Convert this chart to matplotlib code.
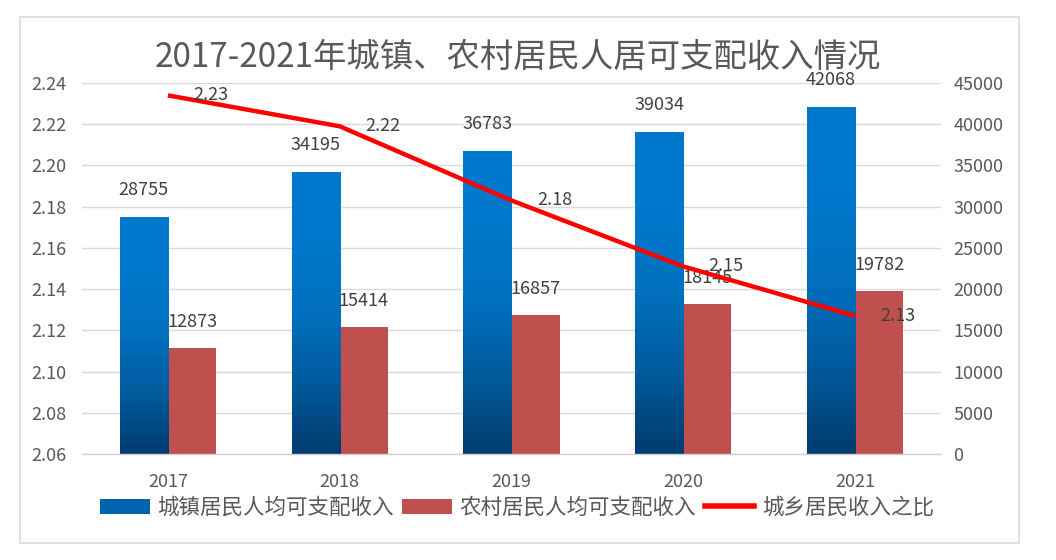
import numpy as np
import matplotlib
matplotlib.use("Agg")
import matplotlib.pyplot as plt
from matplotlib.colors import LinearSegmentedColormap
from matplotlib.patches import Patch, Rectangle
from matplotlib.lines import Line2D

plt.rcParams['font.family'] = ['Noto Sans CJK SC', 'DejaVu Sans']

years = ['2017', '2018', '2019', '2020', '2021']
urban_income = [28755, 34195, 36783, 39034, 42068]
rural_income = [12873, 15414, 16857, 18145, 19782]
ratio = [2.234, 2.219, 2.183, 2.151, 2.127]
ratio_labels = ['2.23', '2.22', '2.18', '2.15', '2.13']

title = '2017-2021年城镇、农村居民人居可支配收入情况'
legend_labels = ['城镇居民人均可支配收入', '农村居民人均可支配收入', '城乡居民收入之比']

tick_color = '#595959'
label_color = '#404040'
grid_color = '#D9D9D9'
red_bar = '#C0504D'

fig = plt.figure(figsize=(10.56, 5.6), dpi=100)
fig.patches.append(Rectangle((20/1056, 1-543/560), (1019-20)/1056, (543-17)/560,
                             transform=fig.transFigure, fill=False,
                             edgecolor='#D9D9D9', linewidth=1.2))

ax = fig.add_axes([82/1056, 1-454/560, (941-82)/1056, (454-83)/560])
x = np.arange(len(years))
w = 0.28

bars_u = ax.bar(x - w/2, urban_income, w, color='#0070C0', linewidth=0, zorder=2)
bars_r = ax.bar(x + w/2, rural_income, w, color=red_bar, linewidth=0, zorder=2)

cmap = LinearSegmentedColormap.from_list('blue_grad', ['#003B6E', '#005A9C', '#0070BE', '#0078CC', '#0079CE'])
grad = np.linspace(0, 1, 256).reshape(-1, 1)
for rect in bars_u:
    x0, y0 = rect.get_xy()
    im = ax.imshow(grad, extent=[x0, x0 + rect.get_width(), y0, y0 + rect.get_height()],
                   origin='lower', cmap=cmap, aspect='auto', zorder=2.1, interpolation='bilinear')
    im.set_clip_path(rect)
    rect.set_facecolor('none')

ax.set_xlim(-0.5, len(years) - 0.5)
ax.set_ylim(0, 45000)
ax.set_yticks(np.arange(0, 45001, 5000))
ax.set_xticks(x)
ax.set_xticklabels(years)
ax.grid(axis='y', color=grid_color, linewidth=1.0, zorder=0)
ax.set_axisbelow(True)
for s in ['top', 'left', 'right']:
    ax.spines[s].set_visible(False)
ax.spines['bottom'].set_color('#D0D0D0')
ax.spines['bottom'].set_linewidth(1.0)
ax.tick_params(axis='x', length=0, pad=14, labelsize=13, labelcolor=tick_color)

for rect, v in zip(bars_u, urban_income):
    ax.annotate(f'{v}', (rect.get_x() + rect.get_width()/2, v), xytext=(0, 27),
                textcoords='offset pixels', ha='center', va='center',
                fontsize=13, color=label_color)
for rect, v in zip(bars_r, rural_income):
    ax.annotate(f'{v}', (rect.get_x() + rect.get_width()/2, v), xytext=(0, 26),
                textcoords='offset pixels', ha='center', va='center',
                fontsize=13, color=label_color)

ax2 = ax.twinx()
ax.yaxis.tick_right()
ax.yaxis.set_label_position('right')
ax.tick_params(axis='y', which='both', left=False, labelleft=False, right=False,
               labelright=True, length=0, pad=9, labelsize=13, labelcolor=tick_color)
ax2.yaxis.tick_left()
ax2.plot(x, ratio, color='#FF0000', linewidth=3.2, solid_capstyle='butt', zorder=3)
ax2.set_ylim(2.06, 2.24)
ax2.set_yticks(np.arange(2.06, 2.2401, 0.02))
ax2.set_yticklabels([f'{t:.2f}' for t in np.arange(2.06, 2.2401, 0.02)])
ax2.tick_params(axis='y', which='both', right=False, labelright=False, left=False,
                labelleft=True, length=0, pad=11, labelsize=13, labelcolor=tick_color)
for s in ['top', 'left', 'right', 'bottom']:
    ax2.spines[s].set_visible(False)
for xi, v, lab in zip(x, ratio, ratio_labels):
    ax2.annotate(lab, (xi, v), xytext=(43, 0), textcoords='offset pixels',
                 ha='center', va='center', fontsize=13, color=label_color)

fig.text(518/1056, 1-57/560, title, ha='center', va='center', fontsize=24, color=tick_color)

handles = [Patch(facecolor='#0064AE', edgecolor='none'),
           Patch(facecolor=red_bar, edgecolor='none'),
           Line2D([0], [0], color='#FF0000', linewidth=4)]
fig.legend(handles, legend_labels, loc='center', bbox_to_anchor=(517/1056, 1-508/560),
           ncol=3, frameon=False, fontsize=15.5, handlelength=2.3, handleheight=0.7,
           handletextpad=0.35, columnspacing=0.4, labelcolor=tick_color)

fig.savefig('out.png', dpi=100)
